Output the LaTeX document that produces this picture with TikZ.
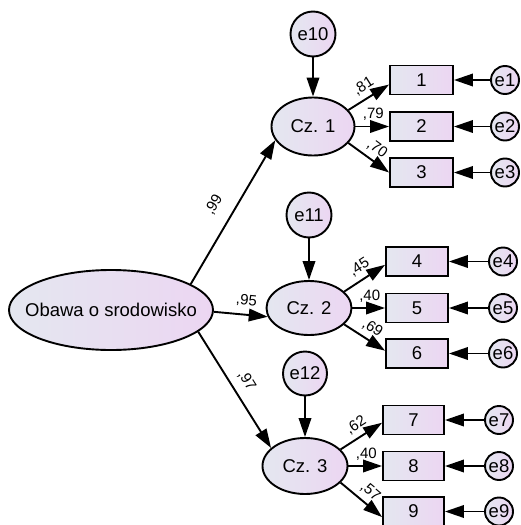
\documentclass[tikz,border=0pt]{standalone}
\usepackage{fontspec}
\setmainfont{Liberation Sans}
\usetikzlibrary{arrows.meta,shapes.geometric}
\definecolor{shadeL}{RGB}{228,231,240}
\definecolor{shadeR}{RGB}{236,214,242}
\begin{document}
\begin{tikzpicture}[x=1pt,y=-1pt,
  every node/.style={font=\fontsize{18.5}{20}\selectfont, inner sep=0pt},
  shaded/.style={draw, line width=1.9pt, left color=shadeL, right color=shadeR},
  latent/.style={shaded, ellipse},
  errc/.style={shaded, circle},
  obs/.style={shaded, rectangle, minimum width=62pt, minimum height=29pt},
  arr/.style={line width=1.9pt, -{Triangle[length=19pt,width=12.5pt]}},
  coef/.style={font=\fontsize{15}{16}\selectfont, sloped, above=5pt, pos=0.53, inner sep=0pt}
]
\path[fill=white] (0,0) rectangle (520,525);
\useasboundingbox (0,0) rectangle (520,525);

% latent factors
\node[latent, minimum width=204pt, minimum height=80pt] (obawa) at (111,310) {\makebox[0pt]{Obawa o srodowisko}};
\node[latent, minimum width=83pt, minimum height=58pt] (cz1) at (313,126.5) {Cz. 1};
\node[latent, minimum width=85pt, minimum height=54pt] (cz2) at (309,308) {Cz. 2};
\node[latent, minimum width=85pt, minimum height=56pt] (cz3) at (305,466) {Cz. 3};

% disturbances of the first-order factors
\node[errc, minimum size=45pt] (e10) at (313,34) {e10};
\node[errc, minimum size=45pt] (e11) at (309,215) {e11};
\node[errc, minimum size=44pt] (e12) at (305,373.5) {e12};

% observed items
\node[obs, minimum width=63pt] (b1) at (421.5,80) {1};
\node[obs, minimum width=63pt] (b2) at (421.5,126.5) {2};
\node[obs, minimum width=63pt] (b3) at (421.5,172.5) {3};
\node[obs] (b4) at (417,261.5) {4};
\node[obs] (b5) at (417,308) {5};
\node[obs] (b6) at (417,353.5) {6};
\node[obs, minimum width=61pt] (b7) at (413.5,420) {7};
\node[obs, minimum width=61pt] (b8) at (413.5,466) {8};
\node[obs, minimum width=61pt] (b9) at (413.5,511.5) {9};

% measurement errors
\node[errc, minimum size=28pt] (e1) at (505,80) {e1};
\node[errc, minimum size=28pt] (e2) at (505,126.5) {e2};
\node[errc, minimum size=28pt] (e3) at (505,172.5) {e3};
\node[errc, minimum size=28pt] (e4) at (503,261.5) {e4};
\node[errc, minimum size=28pt] (e5) at (503,308) {e5};
\node[errc, minimum size=28pt] (e6) at (503,353.5) {e6};
\node[errc, minimum size=28pt] (e7) at (499,420) {e7};
\node[errc, minimum size=28pt] (e8) at (499,466) {e8};
\node[errc, minimum size=28pt] (e9) at (499,511.5) {e9};

% second-order loadings
\draw[arr] (obawa.18) -- node[coef, pos=.48, above=8pt] {,99} (cz1.200);
\draw[arr] (obawa.-1) -- node[coef, pos=.58, above=2pt] {,95} (cz2.192);
\draw[arr] (obawa.-14.5) -- node[coef, pos=.49, above=3pt] {,97} (cz3.152);

% disturbances
\draw[arr] (e10) -- (cz1);
\draw[arr] (e11) -- (cz2);
\draw[arr] (e12) -- (cz3);

% first-order loadings
\draw[arr] (cz1.25) -- node[coef] {,81} (b1.188);
\draw[arr] (cz1.east) -- node[coef] {,79} (b2.west);
\draw[arr] (cz1.-25) -- node[coef] {,70} (b3.west);
\draw[arr] (cz2.25) -- node[coef] {,45} (b4.186);
\draw[arr] (cz2.east) -- node[coef] {,40} (b5.west);
\draw[arr] (cz2.-25) -- node[coef] {,69} (b6.175);
\draw[arr] (cz3.25) -- node[coef] {,62} (b7.185);
\draw[arr] (cz3.east) -- node[coef] {,40} (b8.west);
\draw[arr] (cz3.-25) -- node[coef] {,57} (b9.190);

% errors to items
\foreach \i in {1,...,9} \draw[arr] (e\i) -- (b\i);
\end{tikzpicture}
\end{document}
